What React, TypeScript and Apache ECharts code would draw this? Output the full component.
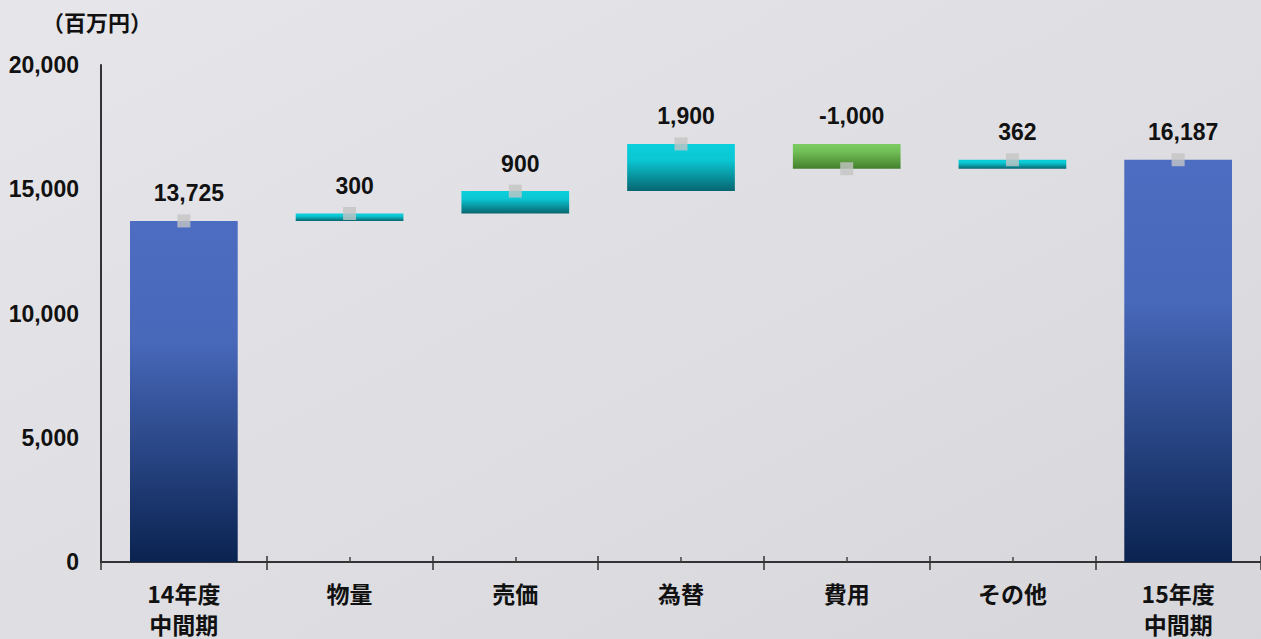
import React, { useEffect, useRef } from "react";
import * as echarts from "echarts";

const categories = ["14年度\n中間期", "物量", "売価", "為替", "費用", "その他", "15年度\n中間期"];
const deltas = [13725, 300, 900, 1900, -1000, 362, 16187];
const isTotal = [true, false, false, false, false, false, true];
const yTicks = [0, 5000, 10000, 15000, 20000];

const blueGrad = () =>
  new echarts.graphic.LinearGradient(0, 0, 0, 1, [
    { offset: 0, color: "#4c6dc1" },
    { offset: 0.35, color: "#4868ba" },
    { offset: 1, color: "#0a2350" },
  ]);
const cyanGrad = () =>
  new echarts.graphic.LinearGradient(0, 0, 0, 1, [
    { offset: 0, color: "#0bd0dc" },
    { offset: 0.35, color: "#0ac6d2" },
    { offset: 1, color: "#076570" },
  ]);
const greenGrad = () =>
  new echarts.graphic.LinearGradient(0, 0, 0, 1, [
    { offset: 0, color: "#7ccb62" },
    { offset: 0.3, color: "#72bf58" },
    { offset: 1, color: "#43802c" },
  ]);

export default function App() {
  const ref = useRef<HTMLDivElement>(null);
  useEffect(() => {
    if (!ref.current) return;
    const chart = echarts.init(ref.current, null, { renderer: "svg" });

    const base: number[] = [];
    const height: number[] = [];
    const ends: number[] = [];
    let running = 0;
    deltas.forEach((d, i) => {
      if (isTotal[i]) {
        base.push(0);
        height.push(d);
        running = d;
      } else {
        const next = running + d;
        base.push(Math.min(running, next));
        height.push(Math.abs(d));
        running = next;
      }
      ends.push(running);
    });

    const font = "'Liberation Sans', Arial, 'Noto Sans CJK JP', sans-serif";
    const fmt = (v: number) => v.toLocaleString("en-US");

    chart.setOption({
      animation: false,
      backgroundColor: new echarts.graphic.LinearGradient(0, 0, 1, 1, [
        { offset: 0, color: "#e6e6ea" },
        { offset: 0.5, color: "#dfdfe3" },
        { offset: 1, color: "#d6d6db" },
      ]),
      grid: { left: 101, right: 0, top: 65, bottom: 73, containLabel: false },
      graphic: [
        {
          type: "text",
          left: 42,
          top: 10,
          style: {
            text: "（百万円）",
            fontSize: 22,
            fontWeight: "bold",
            fill: "#111",
            fontFamily: "'Noto Sans CJK JP', sans-serif",
          },
        },
      ],
      xAxis: [
        {
          type: "category",
          data: categories,
          axisLine: { lineStyle: { color: "#333", width: 2 } },
          axisTick: { show: true, interval: 0, length: 8, lineStyle: { color: "#333", width: 1.5 } },
          axisLabel: {
            interval: 0,
            margin: 15,
            fontSize: 23,
            fontWeight: "bold",
            color: "#111",
            lineHeight: 31,
            fontFamily: "'Noto Sans CJK JP', " + font,
          },
        },
        {
          type: "category",
          data: categories,
          position: "bottom",
          offset: 0,
          axisLine: { show: false },
          axisLabel: { show: false },
          axisTick: { show: true, inside: true, alignWithLabel: true, interval: 0, length: 5, lineStyle: { color: "#444", width: 1.5 } },
        },
        {
          type: "category",
          data: categories,
          position: "bottom",
          offset: 0,
          axisLine: { show: false },
          axisLabel: { show: false },
          axisTick: { show: true, inside: true, interval: 0, length: 6, lineStyle: { color: "#333", width: 1.5 } },
        },
      ],
      yAxis: {
        type: "value",
        min: yTicks[0],
        max: yTicks[yTicks.length - 1],
        interval: 5000,
        axisLine: { show: true, lineStyle: { color: "#333", width: 2 } },
        axisTick: { show: false },
        splitLine: { show: false },
        axisLabel: {
          margin: 22,
          fontSize: 23,
          fontWeight: "bold",
          color: "#111",
          fontFamily: font,
          formatter: (v: number) => fmt(v),
        },
      },
      series: [
        {
          type: "bar",
          stack: "w",
          data: base,
          barWidth: "65%",
          itemStyle: { color: "transparent" },
          silent: true,
        },
        {
          type: "bar",
          stack: "w",
          barWidth: "65%",
          data: height.map((h, i) => ({
            value: h,
            itemStyle: {
              color: isTotal[i] ? blueGrad() : deltas[i] < 0 ? greenGrad() : cyanGrad(),
            },
          })),
          label: {
            show: true,
            position: "top",
            distance: 16,
            offset: [5, 0],
            fontSize: 23,
            fontWeight: "bold",
            color: "#111",
            fontFamily: font,
            formatter: (p: any) => fmt(deltas[p.dataIndex]),
          },
        },
        {
          type: "scatter",
          data: ends,
          symbol: "rect",
          symbolSize: 13,
          itemStyle: { color: "#c4c4c4" },
          z: 5,
        },
      ],
    });
    return () => chart.dispose();
  }, []);
  return (
    <div
      ref={ref}
      style={{ position: "absolute", left: 0, top: 0, width: 1261, height: 639 }}
    />
  );
}
